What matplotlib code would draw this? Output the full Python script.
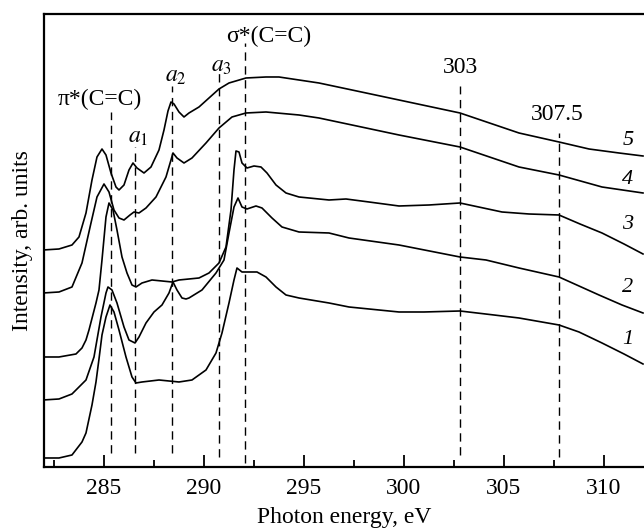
import numpy as np
import matplotlib
matplotlib.use('Agg')
import matplotlib.pyplot as plt

plt.rcParams['font.family'] = ['Liberation Serif', 'DejaVu Serif']
plt.rcParams['mathtext.fontset'] = 'stix'

# спектри (енергія, еВ; інтенсивність, відн. од.)
e1 = [281.95, 282.75, 283.4, 283.9, 284.1, 284.4, 284.6, 284.75, 284.9, 285.1, 285.3, 285.5,
      285.75, 286.1, 286.4, 286.6, 286.9, 287.75, 288.75, 289.4, 290.1, 290.6, 290.9, 291.25,
      291.5, 291.65, 291.9, 292.25, 292.65, 293.1, 293.6, 294.1, 294.75, 296.25, 297.25, 299.75,
      301.0, 302.8, 304.5, 305.75, 307.75, 308.75, 309.9, 311.0, 311.95]
i1 = [9, 9, 12, 25, 34, 62, 85, 108, 132, 150, 162, 155,
      137, 110, 90, 84, 85, 87, 85, 87, 97, 114, 134, 164,
      187, 199, 195, 195, 195, 190, 180, 172, 169, 164, 160, 155,
      155, 156, 152, 149, 142, 135, 124, 113, 103]

e2 = [281.95, 282.75, 283.4, 284.1, 284.5, 284.85, 285.1, 285.2, 285.4, 285.65, 286.0, 286.25,
      286.55, 286.75, 287.1, 287.5, 287.9, 288.25, 288.45, 288.65, 288.9, 289.1, 289.25, 289.9,
      290.6, 291.0, 291.25, 291.5, 291.7, 291.9, 292.15, 292.6, 292.9, 293.4, 293.9, 294.75,
      296.25, 297.25, 299.75, 302.8, 304.1, 305.75, 307.75, 308.75, 309.75, 310.9, 311.95]
i2 = [67, 68, 73, 87, 110, 150, 174, 180, 177, 164, 140, 127,
      124, 130, 144, 155, 162, 174, 185, 177, 169, 168, 169, 177,
      194, 207, 234, 260, 269, 260, 258, 261, 259, 249, 240, 235,
      234, 229, 222, 210, 207, 199, 190, 181, 172, 162, 154]

e3 = [281.95, 282.75, 283.6, 283.9, 284.1, 284.25, 284.6, 284.75, 284.9, 285.1, 285.25, 285.45,
      285.65, 285.9, 286.15, 286.4, 286.6, 286.9, 287.4, 288.4, 288.75, 289.75, 290.25, 290.75,
      291.1, 291.35, 291.5, 291.6, 291.75, 291.9, 292.15, 292.5, 292.85, 293.15, 293.6, 294.1,
      294.75, 296.25, 297.1, 298.25, 299.75, 301.25, 302.8, 304.9, 306.25, 307.75, 308.8, 309.9,
      311.0, 311.95]
i3 = [110, 110, 113, 119, 127, 137, 164, 177, 207, 250, 264, 257,
      237, 210, 194, 182, 180, 184, 187, 185, 187, 189, 194, 204,
      220, 257, 297, 316, 315, 304, 299, 301, 300, 294, 282, 274,
      270, 267, 268, 265, 261, 262, 264, 255, 253, 252, 243, 234,
      223, 213]

e4 = [281.95, 282.75, 283.4, 283.9, 284.35, 284.65, 285.0, 285.25, 285.5, 285.75, 286.0, 286.3,
      286.5, 286.75, 287.1, 287.6, 288.1, 288.35, 288.45, 288.65, 289.0, 289.4, 290.1, 290.75,
      291.4, 292.1, 293.1, 294.75, 295.75, 297.4, 299.75, 302.8, 305.75, 307.75, 309.9, 311.95]
i4 = [174, 175, 180, 204, 244, 270, 283, 275, 257, 249, 247, 252,
      255, 254, 259, 270, 290, 307, 314, 309, 304, 309, 324, 339,
      350, 354, 355, 352, 349, 342, 332, 320, 300, 292, 280, 274]

e5 = [281.95, 282.75, 283.4, 283.75, 284.1, 284.4, 284.65, 284.9, 285.1, 285.35, 285.6, 285.75,
      286.0, 286.25, 286.45, 286.65, 287.0, 287.35, 287.75, 288.0, 288.2, 288.35, 288.5, 288.75,
      289.0, 289.25, 289.75, 290.25, 290.75, 291.25, 292.1, 293.1, 293.75, 294.75, 295.75, 297.4,
      299.75, 302.8, 305.75, 307.75, 309.25, 310.75, 311.95]
i5 = [217, 218, 222, 230, 254, 287, 310, 318, 312, 294, 280, 277,
      282, 297, 304, 299, 294, 300, 317, 337, 356, 365, 363, 355,
      350, 354, 360, 369, 378, 384, 389, 390, 390, 387, 384, 377,
      367, 354, 334, 325, 318, 314, 311]

curves = [(e1, i1), (e2, i2), (e3, i3), (e4, i4), (e5, i5)]
curve_labels = ['1', '2', '3', '4', '5']
label_y = [127, 179, 242, 287, 326]

# штрихові лінії: положення, верх, низ
line_x = [285.33, 286.53, 288.42, 290.75, 292.05, 302.8, 307.75]
line_top = [355, 320, 381, 394, 424, 381, 334]
line_bot = [14, 14, 14, 10, 4, 12, 10]

peak_text = ['π*(C=C)', '$a_1$', '$a_2$', '$a_3$', 'σ*(C=C)', '303', '307.5']
text_x = [284.8, 286.7, 288.6, 290.85, 293.25, 302.85, 307.65]
text_y = [368, 329, 390, 400, 431, 399, 352]

fig = plt.figure(figsize=(6.44, 5.32), dpi=100)
ax = fig.add_axes([0.0683, 0.1222, 0.9317, 0.8515])

for (e, i) in curves:
    ax.plot(e, i, color='black', lw=1.2, solid_joinstyle='round')

for x, t, b in zip(line_x, line_top, line_bot):
    ax.plot([x, x], [b, t], color='black', lw=1.0, linestyle=(0, (6, 4)))

for s, x, y in zip(peak_text, text_x, text_y):
    ax.text(x, y, s, fontsize=17, ha='center', va='center')

for s, y in zip(curve_labels, label_y):
    ax.text(311.2, y, s, fontsize=16, style='italic', ha='center', va='center')

ax.set_xlim(282, 312)
ax.set_ylim(0, 453)
ax.set_xticks([285, 290, 295, 300, 305, 310])
ax.set_xticks(np.arange(282.5, 312, 5), minor=True)
ax.set_yticks([])
ax.tick_params(axis='x', which='major', direction='in', length=9, width=1.3, labelsize=17, pad=8)
ax.tick_params(axis='x', which='minor', direction='in', length=5, width=1.3)
ax.spines['right'].set_visible(False)
for sp in ['left', 'bottom', 'top']:
    ax.spines[sp].set_linewidth(1.6)

ax.set_xlabel('Photon energy, eV', fontsize=17, labelpad=6)
ax.set_ylabel('Intensity, arb. units', fontsize=17, labelpad=8)

fig.savefig('out.png', dpi=100)
